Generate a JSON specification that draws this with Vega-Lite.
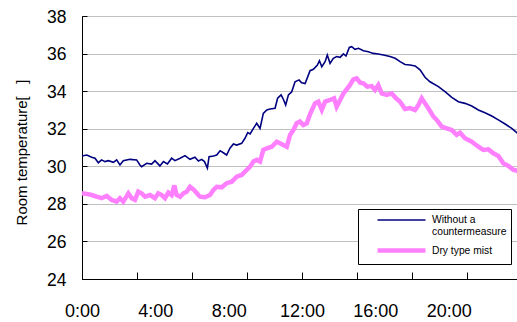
{
  "$schema": "https://vega.github.io/schema/vega-lite/v6.json",
  "autosize": "none",
  "padding": {"left": 82, "top": 16, "right": 0, "bottom": 43},
  "width": 440,
  "height": 263,
  "background": "white",
  "config": {
    "font": "Liberation Sans",
    "view": {"stroke": "black", "strokeWidth": 1}
  },
  "datasets": {
    "w": [
      [0.0,30.55],[0.26,30.6],[0.53,30.48],[0.71,30.43],[0.89,30.19],[1.07,30.34],[1.25,30.25],[1.44,30.3],[1.71,30.21],[1.89,30.34],
      [2.07,30.07],[2.25,30.3],[2.62,30.37],[2.98,30.34],[3.16,30.07],[3.25,29.98],[3.53,30.16],[3.8,30.12],[3.98,30.3],[4.25,30.02],
      [4.44,30.25],[4.66,30.12],[4.89,30.43],[5.07,30.3],[5.35,30.43],[5.62,30.57],[5.89,30.37],[6.16,30.48],[6.35,30.28],[6.53,30.37],
      [6.68,30.25],[6.84,29.9],[6.93,30.51],[7.17,30.55],[7.35,30.6],[7.53,30.83],[7.71,30.72],[7.89,30.6],[8.07,30.96],[8.26,31.19],
      [8.44,31.13],[8.71,31.22],[8.89,31.49],[9.04,31.79],[9.17,31.72],[9.35,32.02],[9.53,32.29],[9.71,32.02],[9.89,32.82],[10.08,33.0],
      [10.26,33.05],[10.53,33.09],[10.67,33.62],[10.86,33.8],[10.98,33.57],[11.11,33.26],[11.26,33.8],[11.44,33.97],[11.62,34.5],[11.84,34.6],
      [11.98,34.45],[12.17,34.4],[12.44,35.09],[12.62,35.16],[12.84,35.39],[12.95,35.62],[13.08,35.3],[13.26,35.57],[13.38,35.92],[13.53,35.48],
      [13.71,35.75],[13.89,35.84],[14.08,35.8],[14.26,35.98],[14.4,35.87],[14.58,36.33],[14.71,36.37],[14.89,36.23],[15.08,36.28],[15.35,36.15],
      [15.62,36.1],[15.89,36.01],[16.16,35.98],[16.44,35.92],[16.8,35.84],[17.08,35.75],[17.35,35.57],[17.62,35.42],[17.89,35.39],[18.17,35.34],
      [18.44,35.13],[18.71,34.74],[18.98,34.5],[19.44,34.24],[19.8,33.97],[20.17,33.67],[20.53,33.44],[20.89,33.35],[21.26,33.21],[21.62,33.0],
      [21.98,32.85],[22.35,32.68],[22.71,32.47],[23.08,32.25],[23.44,32.02],[23.71,31.79],[23.95,31.65]
    ],
    "d": [
      [0.0,28.56],[0.26,28.53],[0.53,28.47],[0.8,28.38],[1.07,28.3],[1.35,28.42],[1.62,28.21],[1.89,28.12],[2.07,28.3],[2.25,28.12],
      [2.53,28.56],[2.71,28.3],[2.89,28.21],[3.07,28.65],[3.25,28.56],[3.44,28.38],[3.71,28.47],[3.98,28.3],[4.16,28.56],[4.35,28.47],
      [4.53,28.3],[4.71,28.6],[4.89,28.47],[5.04,28.98],[5.16,28.47],[5.35,28.38],[5.53,28.56],[5.71,28.65],[5.89,28.91],[6.11,28.74],
      [6.35,28.47],[6.44,28.38],[6.71,28.35],[6.98,28.47],[7.17,28.74],[7.35,28.91],[7.62,28.88],[7.89,29.1],[8.17,29.18],[8.44,29.45],
      [8.71,29.54],[8.89,29.71],[9.17,29.98],[9.35,30.25],[9.53,30.34],[9.71,30.25],[9.89,30.87],[10.08,30.96],[10.35,31.04],[10.62,31.31],
      [10.8,31.22],[10.98,31.13],[11.17,31.04],[11.35,31.67],[11.53,31.93],[11.71,32.29],[11.89,32.38],[12.07,32.2],[12.26,32.29],[12.44,32.78],
      [12.71,33.35],[12.89,33.44],[13.08,33.0],[13.26,33.44],[13.53,33.53],[13.75,33.62],[13.89,33.17],[14.08,33.53],[14.26,33.88],[14.44,34.1],
      [14.62,34.33],[14.8,34.63],[14.98,34.68],[15.17,34.45],[15.35,34.42],[15.56,34.24],[15.8,34.27],[15.98,34.06],[16.16,34.33],[16.35,33.88],
      [16.62,33.8],[16.89,33.88],[17.13,33.62],[17.35,33.44],[17.62,33.05],[17.89,33.1],[18.17,33.0],[18.35,33.26],[18.53,33.62],[18.71,33.35],
      [18.89,33.09],[19.17,32.64],[19.35,32.47],[19.62,32.11],[19.89,32.02],[20.17,31.93],[20.44,31.67],[20.62,31.79],[20.89,31.49],[21.26,31.31],
      [21.62,31.04],[21.89,30.87],[22.17,30.9],[22.44,30.69],[22.71,30.55],[22.98,30.16],[23.26,30.02],[23.53,29.81],[23.71,29.77],[23.95,29.6]
    ]
  },
  "layer": [
    {
      "data": {"name": "w"},
      "transform": [
        {"calculate": "datum[0]", "as": "hour"},
        {"calculate": "datum[1]", "as": "temp"},
        {"calculate": "'Without a countermeasure'", "as": "series"}
      ],
      "mark": {"type": "line", "interpolate": "linear"},
      "encoding": {
        "x": {"field": "hour", "type": "quantitative"},
        "y": {"field": "temp", "type": "quantitative"},
        "color": {"field": "series", "type": "nominal"},
        "strokeWidth": {"field": "series", "type": "nominal"}
      }
    },
    {
      "data": {"name": "d"},
      "transform": [
        {"calculate": "datum[0]", "as": "hour"},
        {"calculate": "datum[1]", "as": "temp"},
        {"calculate": "'Dry type mist'", "as": "series"}
      ],
      "mark": {"type": "line", "interpolate": "linear"},
      "encoding": {
        "x": {"field": "hour", "type": "quantitative"},
        "y": {"field": "temp", "type": "quantitative"},
        "color": {"field": "series", "type": "nominal"},
        "strokeWidth": {"field": "series", "type": "nominal"}
      }
    }
  ],
  "encoding": {
    "x": {
      "field": "hour", "type": "quantitative",
      "scale": {"domain": [0, 24], "nice": false, "zero": false},
      "axis": {
        "title": null,
        "grid": false,
        "values": [0, 3, 4, 6, 8, 9, 12, 15, 16, 18, 20, 21],
        "labelExpr": "datum.value % 4 == 0 ? datum.value + ':00' : ''",
        "labelOverlap": false,
        "labelFontSize": 18,
        "labelColor": "black",
        "labelPadding": 30,
        "labelFlush": false,
        "domainColor": "black",
        "tickColor": "black",
        "tickSize": -7,
        "tickOpacity": {"condition": {"test": "datum.value % 3 == 0", "value": 1}, "value": 0}
      }
    },
    "y": {
      "field": "temp", "type": "quantitative",
      "scale": {"domain": [24, 38], "nice": false, "zero": false},
      "axis": {
        "title": "Room temperature[\u00a0\u00a0\u00a0]",
        "titleFontSize": 15,
        "titleFontWeight": "normal",
        "titleColor": "black",
        "titleX": -61,
        "titleY": 136,
        "titleBaseline": "middle",
        "titleAngle": -90,
        "values": [24, 26, 28, 30, 32, 34, 36, 38],
        "labelFontSize": 17.5,
        "labelColor": "black",
        "labelPadding": 21,
        "labelOffset": 1,
        "grid": true,
        "gridColor": "#c0c0c0",
        "gridOpacity": 1,
        "domainColor": "black",
        "tickColor": "black",
        "tickSize": -5
      }
    },
    "color": {
      "field": "series", "type": "nominal",
      "scale": {"domain": ["Without a countermeasure", "Dry type mist"], "range": ["#000080", "#ff80ff"]},
      "legend": {
        "title": null,
        "orient": "none",
        "legendX": 276,
        "legendY": 193,
        "fillColor": "white",
        "strokeColor": "black",
        "padding": 4,
        "cornerRadius": 0,
        "symbolType": "M-4,0H4",
        "symbolSize": 144,
        "symbolOffset": 31,
        "rowPadding": 3,
        "labelOffset": 22,
        "labelFontSize": 10.3,
        "labelColor": "black",
        "labelLimit": 200,
        "labelExpr": "datum.label == 'Without a countermeasure' ? ['Without a', 'countermeasure'] : datum.label"
      }
    },
    "strokeWidth": {
      "field": "series", "type": "nominal",
      "scale": {"domain": ["Without a countermeasure", "Dry type mist"], "range": [1.6, 4.5]},
      "legend": null
    }
  }
}
